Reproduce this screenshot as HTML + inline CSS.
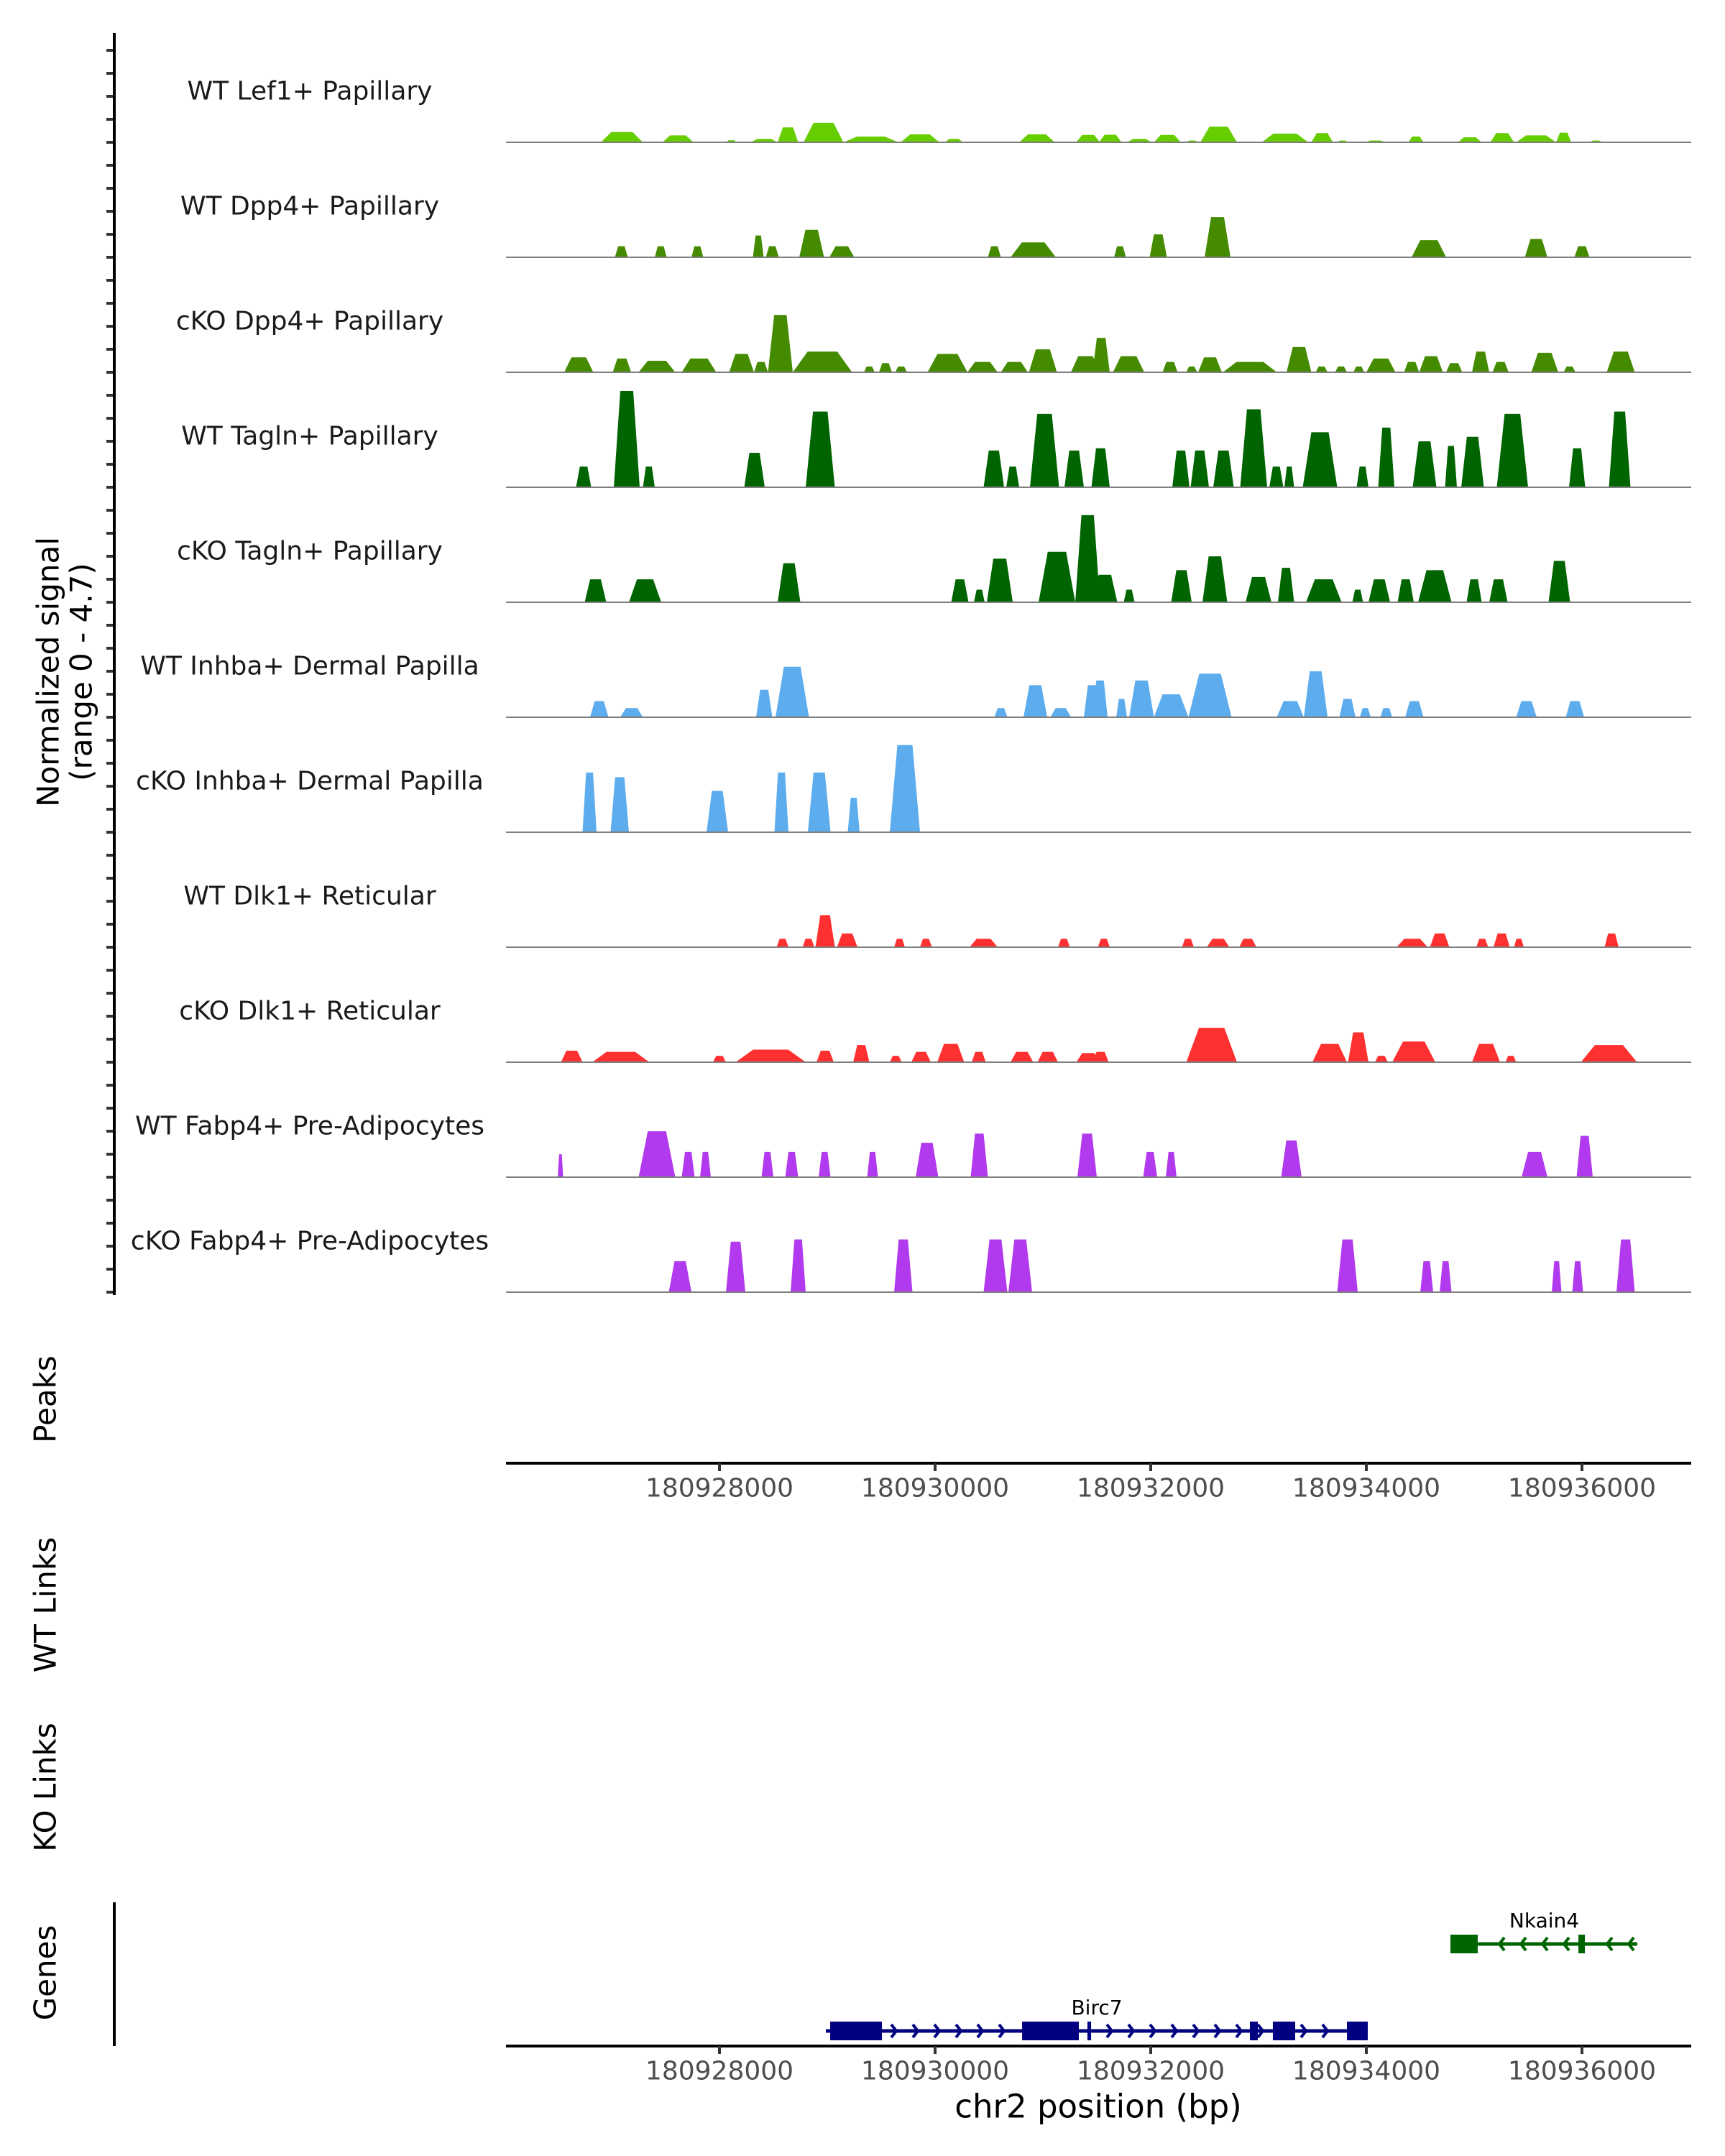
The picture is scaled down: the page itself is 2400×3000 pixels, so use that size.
<!DOCTYPE html>
<html><head><meta charset="utf-8"><style>
html,body{margin:0;padding:0;background:#fff}
svg{display:block}
text{font-family:"DejaVu Sans","Liberation Sans",sans-serif}
</style></head><body>
<svg id="chart" xmlns="http://www.w3.org/2000/svg" width="2400" height="3000" viewBox="0 0 2400 3000">
<rect width="2400" height="3000" fill="#fff"/>
<g id="tracks"></g>
<g id="axes"></g>
<g id="genes"></g>
<text transform="translate(67,935) rotate(-90)" text-anchor="middle" dominant-baseline="central" font-size="42" fill="#000">Normalized signal</text>
<text transform="translate(113,935) rotate(-90)" text-anchor="middle" dominant-baseline="central" font-size="42" fill="#000">(range 0 - 4.7)</text>
<text transform="translate(63,1947) rotate(-90)" text-anchor="middle" dominant-baseline="central" font-size="42" fill="#000">Peaks</text>
<text transform="translate(63,2233) rotate(-90)" text-anchor="middle" dominant-baseline="central" font-size="42" fill="#000">WT Links</text>
<text transform="translate(63,2487) rotate(-90)" text-anchor="middle" dominant-baseline="central" font-size="42" fill="#000">KO Links</text>
<text transform="translate(63,2745) rotate(-90)" text-anchor="middle" dominant-baseline="central" font-size="42" fill="#000">Genes</text>
<text x="1528" y="2931" text-anchor="middle" dominant-baseline="central" font-size="45" fill="#000">chr2 position (bp)</text>
</svg>
<script>
// positions are kb past chr2:180,920,000 ; heights are normalized signal
const trackNames = ["WT Lef1+ Papillary","WT Dpp4+ Papillary","cKO Dpp4+ Papillary","WT Tagln+ Papillary","cKO Tagln+ Papillary","WT Inhba+ Dermal Papilla","cKO Inhba+ Dermal Papilla","WT Dlk1+ Reticular","cKO Dlk1+ Reticular","WT Fabp4+ Pre-Adipocytes","cKO Fabp4+ Pre-Adipocytes"];
const trackColors = ["#66cd00","#458b00","#458b00","#006400","#006400","#5cacee","#5cacee","#ff3030","#ff3030","#b23aee","#b23aee"];
const lef1WT = [[6.90,7.29,0.45],[7.47,7.76,0.30],[8.06,8.16,0.09],[8.29,8.54,0.15],[8.54,8.73,0.65],[8.78,9.15,0.85],[9.15,9.66,0.25],[9.68,10.04,0.35],[10.09,10.26,0.15],[10.78,11.11,0.35],[11.31,11.53,0.32],[11.52,11.73,0.33],[11.78,12.01,0.15],[12.03,12.28,0.32],[12.33,12.44,0.08],[12.46,12.80,0.68],[13.03,13.46,0.38],[13.49,13.69,0.40],[13.73,13.83,0.08],[13.99,14.18,0.08],[14.39,14.53,0.25],[14.85,15.07,0.22],[15.15,15.37,0.40],[15.39,15.76,0.30],[15.76,15.90,0.42],[16.07,16.19,0.08]];
const dpp4WT = [[7.03,7.15,0.48],[7.40,7.51,0.48],[7.74,7.85,0.48],[8.31,8.41,0.95],[8.43,8.55,0.48],[8.74,8.97,1.2],[9.02,9.25,0.48],[10.49,10.61,0.48],[10.70,11.12,0.65],[11.66,11.77,0.48],[11.99,12.15,1.0],[12.50,12.74,1.75],[14.42,14.74,0.75],[15.47,15.68,0.8],[15.93,16.07,0.48]];
const dpp4KO = [[6.56,6.83,0.65],[7.01,7.18,0.6],[7.25,7.59,0.5],[7.65,7.97,0.6],[8.09,8.32,0.8],[8.32,8.45,0.45],[8.45,8.68,2.5],[8.68,9.23,0.9],[9.34,9.44,0.25],[9.48,9.60,0.4],[9.63,9.74,0.25],[9.93,10.30,0.8],[10.30,10.58,0.45],[10.61,10.86,0.45],[10.87,11.13,1.0],[11.26,11.53,0.7],[11.46,11.62,1.5],[11.65,11.94,0.7],[12.11,12.25,0.45],[12.33,12.43,0.25],[12.44,12.66,0.65],[12.67,13.17,0.45],[13.26,13.49,1.1],[13.53,13.64,0.25],[13.71,13.82,0.25],[13.88,13.98,0.25],[14.00,14.27,0.6],[14.35,14.49,0.45],[14.49,14.71,0.7],[14.74,14.89,0.4],[14.98,15.14,0.9],[15.17,15.32,0.45],[15.53,15.78,0.85],[15.83,15.94,0.25],[16.23,16.49,0.9]];
const taglnWT = [[6.67,6.81,0.9],[7.02,7.26,4.2],[7.29,7.40,0.9],[8.23,8.42,1.5],[8.80,9.07,3.3],[10.45,10.64,1.6],[10.66,10.78,0.9],[10.88,11.15,3.2],[11.20,11.38,1.6],[11.45,11.62,1.7],[12.20,12.36,1.6],[12.37,12.54,1.6],[12.58,12.77,1.6],[12.83,13.08,3.4],[13.10,13.23,0.9],[13.24,13.33,0.9],[13.41,13.73,2.4],[13.91,14.02,0.9],[14.11,14.26,2.6],[14.43,14.65,2.0],[14.73,14.84,1.8],[14.88,15.09,2.2],[15.21,15.50,3.2],[15.88,16.03,1.7],[16.25,16.45,3.3]];
const taglnKO = [[6.75,6.95,1.0],[7.16,7.46,1.0],[8.54,8.75,1.7],[10.15,10.31,1.0],[10.36,10.46,0.55],[10.48,10.72,1.9],[10.96,11.30,2.2],[11.30,11.53,3.8],[11.46,11.69,1.2],[11.75,11.85,0.55],[12.19,12.38,1.4],[12.48,12.71,2.0],[12.88,13.12,1.1],[13.18,13.33,1.5],[13.44,13.77,1.0],[13.87,13.97,0.55],[14.02,14.22,1.0],[14.29,14.44,1.0],[14.48,14.79,1.4],[14.93,15.07,1.0],[15.14,15.31,1.0],[15.69,15.89,1.8]];
const inhbaWT = [[6.80,6.97,0.7],[7.08,7.29,0.4],[8.34,8.49,1.2],[8.52,8.83,2.2],[10.55,10.67,0.4],[10.82,11.04,1.4],[11.07,11.26,0.4],[11.38,11.53,1.4],[11.46,11.60,1.6],[11.68,11.78,0.8],[11.80,12.03,1.6],[12.03,12.35,1.0],[12.35,12.75,1.9],[13.17,13.42,0.7],[13.42,13.64,2.0],[13.75,13.90,0.8],[13.94,14.04,0.4],[14.13,14.24,0.4],[14.36,14.53,0.7],[15.39,15.58,0.7],[15.85,16.02,0.7]];
const inhbaKO = [[6.73,6.86,2.6],[6.99,7.16,2.4],[7.88,8.08,1.8],[8.51,8.64,2.6],[8.82,9.03,2.6],[9.19,9.30,1.5],[9.58,9.86,3.8]];
const dlk1WT = [[8.53,8.64,0.37],[8.77,8.88,0.37],[8.89,9.07,1.4],[9.09,9.28,0.6],[9.62,9.72,0.37],[9.86,9.97,0.37],[10.32,10.58,0.37],[11.14,11.25,0.37],[11.51,11.62,0.37],[12.29,12.40,0.37],[12.52,12.73,0.37],[12.82,12.98,0.37],[14.28,14.57,0.37],[14.59,14.77,0.6],[15.02,15.13,0.37],[15.18,15.33,0.6],[15.37,15.46,0.37],[16.21,16.34,0.6]];
const dlk1KO = [[6.53,6.73,0.5],[6.82,7.35,0.45],[7.94,8.06,0.28],[8.15,8.80,0.55],[8.90,9.06,0.5],[9.24,9.39,0.75],[9.58,9.69,0.28],[9.78,9.96,0.45],[10.02,10.27,0.8],[10.34,10.47,0.45],[10.70,10.91,0.45],[10.95,11.14,0.45],[11.31,11.53,0.4],[11.46,11.61,0.45],[12.33,12.80,1.5],[13.50,13.82,0.8],[13.83,14.02,1.3],[14.08,14.20,0.28],[14.24,14.64,0.9],[14.98,15.24,0.8],[15.29,15.39,0.28],[15.99,16.51,0.75]];
const fabp4WT = [[6.50,6.55,1.0],[7.25,7.59,2.0],[7.65,7.77,1.1],[7.82,7.92,1.1],[8.39,8.50,1.1],[8.61,8.73,1.1],[8.92,9.03,1.1],[9.37,9.47,1.1],[9.82,10.03,1.5],[10.33,10.49,1.9],[11.32,11.50,1.9],[11.93,12.06,1.1],[12.14,12.24,1.1],[13.21,13.40,1.6],[15.44,15.68,1.1],[15.95,16.10,1.8]];
const fabp4KO = [[7.53,7.74,1.35],[8.06,8.24,2.2],[8.66,8.80,2.3],[9.62,9.79,2.3],[10.45,10.67,2.3],[10.68,10.90,2.3],[13.73,13.92,2.3],[14.50,14.62,1.35],[14.68,14.79,1.35],[15.72,15.81,1.35],[15.91,16.01,1.35],[16.32,16.49,2.3]];
const trackData = [lef1WT,dpp4WT,dpp4KO,taglnWT,taglnKO,inhbaWT,inhbaKO,dlk1WT,dlk1KO,fabp4WT,fabp4KO];
const tickValues = [8,10,12,14,16];
const tickLabels = ["180928000","180930000","180932000","180934000","180936000"];
const birc7Exons = [[9.027,9.507],[10.807,11.333],[11.413,11.447],[12.92,12.993],[13.133,13.34],[13.82,14.013]];
const birc7Span = [8.987,14.013];
const nkain4Exons = [[14.78,15.033],[15.967,16.027]];
const nkain4Span = [14.78,16.513];

const NS="http://www.w3.org/2000/svg";
const X0=704,X1=2353,K0=6.02,PXK=150;
function xs(k){return X0+(k-K0)*PXK;}
const YMAX=4.7,TRACK_H=150;
function ys(v,base){return base-v/YMAX*TRACK_H;}
function mk(tag,attrs,parent){const e=document.createElementNS(NS,tag);for(const a in attrs)e.setAttribute(a,attrs[a]);parent.appendChild(e);return e;}
const gT=document.getElementById('tracks'),gA=document.getElementById('axes'),gG=document.getElementById('genes');

trackData.forEach((peaks,i)=>{
  const base=198+160*i;
  const g=mk('g',{},gT);
  
  
  peaks.forEach(p=>{
    const a=xs(p[0]),b=xs(p[1]),w=b-a,s=w*0.25,top=ys(p[2],base);
    const poly=mk('polygon',{points:`${a},${base} ${a+s},${top} ${b-s},${top} ${b},${base}`,fill:trackColors[i]},g);
    
    
  });
  const bl=mk('line',{x1:X0,x2:X1,y1:base,y2:base,stroke:'#7f7f7f','stroke-width':2},g);
  
  
  const t=mk('text',{x:431,y:base-71,'text-anchor':'middle','dominant-baseline':'central','font-size':36,fill:'#1a1a1a'},g);
  t.textContent=trackNames[i];
  
  
  for(let j=0;j<5;j++){
    const tk=mk('line',{x1:148,x2:159,y1:base-32*j,y2:base-32*j,stroke:'#333','stroke-width':4},gA);
    
    
  }
});
const yl=mk('line',{x1:159,x2:159,y1:46,y2:1802,stroke:'#000','stroke-width':4},gA);


const gl=mk('line',{x1:159,x2:159,y1:2647,y2:2847,stroke:'#000','stroke-width':4},gA);



[2036,2847].forEach((ay,ai)=>{
  const l=mk('line',{x1:X0,x2:X1,y1:ay,y2:ay,stroke:'#000','stroke-width':4},gA);
  
  
  tickValues.forEach((v,k)=>{
    const tk=mk('line',{x1:xs(v),x2:xs(v),y1:ay,y2:ay+11,stroke:'#333','stroke-width':4},gA);
    
    
    const tl=mk('text',{x:xs(v),y:ay+35,'text-anchor':'middle','dominant-baseline':'central','font-size':36,fill:'#4d4d4d'},gA);
    tl.textContent=tickLabels[k];
    
    
  });
});

function drawGene(name,span,exons,y,color,dir,labelK){
  const g=mk('g',{},gG);
  
  
  mk('line',{x1:xs(span[0]),x2:xs(span[1]),y1:y,y2:y,stroke:color,'stroke-width':5},g);
  for(let x=xs(span[0])+8;x<xs(span[1])-4;x+=30){
    const inEx=exons.some(e=>x>xs(e[0])-6&&x<xs(e[1])+6);
    if(inEx)continue;
    const d=dir*7;
    mk('polyline',{points:`${x-d},${y-9} ${x},${y} ${x-d},${y+9}`,fill:'none',stroke:color,'stroke-width':4},g);
  }
  exons.forEach(e=>{
    const r=mk('rect',{x:xs(e[0]),y:y-13,width:Math.max(xs(e[1])-xs(e[0]),5),height:26,fill:color},g);
    
    
  });
  const t=mk('text',{x:xs(labelK),y:y-23,'text-anchor':'middle','font-size':28,fill:'#000'},g);
  t.textContent=name;
  
  
}
drawGene('Birc7',birc7Span,birc7Exons,2826,'#000080',1,11.50);
drawGene('Nkain4',nkain4Span,nkain4Exons,2705,'#006400',-1,15.65);
</script>
</body></html>
